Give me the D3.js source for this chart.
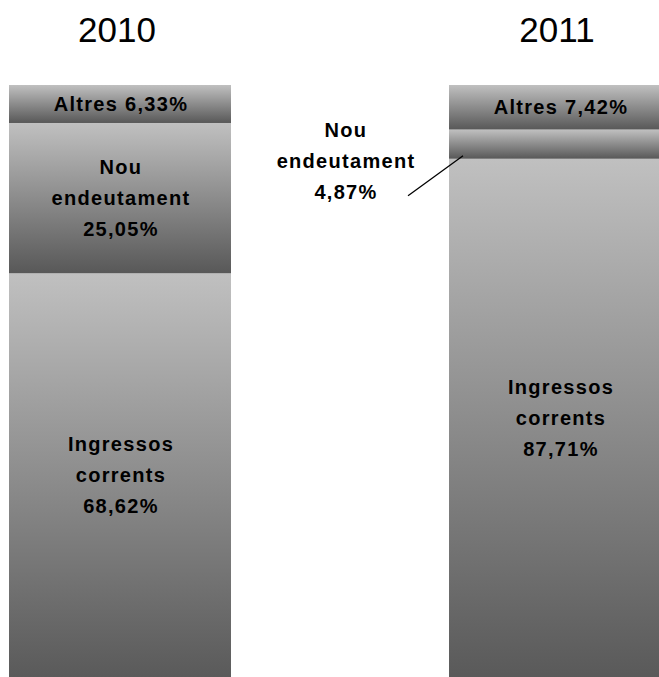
<!DOCTYPE html>
<html>
<head>
<meta charset="utf-8">
<script src="https://cdn.jsdelivr.net/npm/d3@7"></script>
<style>
  html, body { margin: 0; padding: 0; background: #fff; }
  svg { display: block; }
</style>
</head>
<body>
<div id="chart"></div>
<script>
// ---- Data ----
const years = ["2010", "2011"];
const segments = ["Ingressos corrents", "Nou endeutament", "Altres"];
const ingressosCorrents = [68.62, 87.71];
const nouEndeutament = [25.05, 4.87];
const altres = [6.33, 7.42];
const valueLabels = {
  "Ingressos corrents": ["68,62%", "87,71%"],
  "Nou endeutament": ["25,05%", "4,87%"],
  "Altres": ["6,33%", "7,42%"]
};
const labelLines = {
  "Ingressos corrents": ["Ingressos", "corrents"],
  "Nou endeutament": ["Nou", "endeutament"],
  "Altres": ["Altres"]
};

const W = 659, H = 677;
const svg = d3.select("#chart").append("svg")
  .attr("width", W).attr("height", H);

const defs = svg.append("defs");
const grad = defs.append("linearGradient")
  .attr("id", "g").attr("x1", 0).attr("y1", 0).attr("x2", 0).attr("y2", 1);
grad.append("stop").attr("offset", "0%").attr("stop-color", "#c0c0c0");
grad.append("stop").attr("offset", "100%").attr("stop-color", "#585858");

const x = d3.scaleBand().domain(years).range([9, 671])
  .paddingInner(0.4955).paddingOuter(0);
const y = d3.scaleLinear().domain([0, 100]).range([685, 85]);

const table = years.map((yr, i) => ({
  year: yr,
  "Ingressos corrents": ingressosCorrents[i],
  "Nou endeutament": nouEndeutament[i],
  "Altres": altres[i]
}));
const stacked = d3.stack().keys(segments)(table);

const font = "'Liberation Sans', Arial, sans-serif";

// Bars
stacked.forEach(layer => {
  svg.append("g").selectAll("rect").data(layer).join("rect")
    .attr("x", d => x(d.data.year))
    .attr("y", d => y(d[1]))
    .attr("width", x.bandwidth())
    .attr("height", d => y(d[0]) - y(d[1]))
    .attr("fill", "url(#g)");
});

// Titles
svg.append("g").selectAll("text").data(years).join("text")
  .attr("x", d => x(d) + x.bandwidth() / 2 - 3)
  .attr("y", 42)
  .attr("text-anchor", "middle")
  .attr("font-family", font)
  .attr("font-size", 35)
  .attr("fill", "#000")
  .text(d => d);

const lh = 31;
function drawLabel(cx, cy, lines) {
  const n = lines.length;
  const t = svg.append("text")
    .attr("text-anchor", "middle")
    .attr("font-family", font)
    .attr("font-weight", "bold")
    .attr("font-size", 20)
    .attr("letter-spacing", "1.3px")
    .attr("fill", "#000");
  lines.forEach((ln, k) => {
    t.append("tspan")
      .attr("x", cx + 1)
      .attr("y", cy + (k - (n - 1) / 2) * lh)
      .attr("dy", "0.35em")
      .text(ln);
  });
}

stacked.forEach(layer => {
  const key = layer.key;
  layer.forEach((d, i) => {
    const cx = x(d.data.year) + x.bandwidth() / 2;
    const cy = (y(d[0]) + y(d[1])) / 2;
    if (key === "Altres") {
      drawLabel(cx, cy, [labelLines[key][0] + " " + valueLabels[key][i]]);
    } else if (key === "Nou endeutament" && i === 1) {
      // outside label with leader line
      const lx = x(d.data.year) - 104;
      const ly = y(d[0]) + 2;
      drawLabel(lx, ly, labelLines[key].concat([valueLabels[key][i]]));
      svg.append("line")
        .attr("x1", x(d.data.year) - 41).attr("y1", y(d[0]) + 37)
        .attr("x2", x(d.data.year) + 14).attr("y2", y(d[0]) - 3)
        .attr("stroke", "#000").attr("stroke-width", 1.3);
    } else {
      drawLabel(cx, key === "Ingressos corrents" ? cy - 4 : cy,
        labelLines[key].concat([valueLabels[key][i]]));
    }
  });
});
</script>
</body>
</html>
